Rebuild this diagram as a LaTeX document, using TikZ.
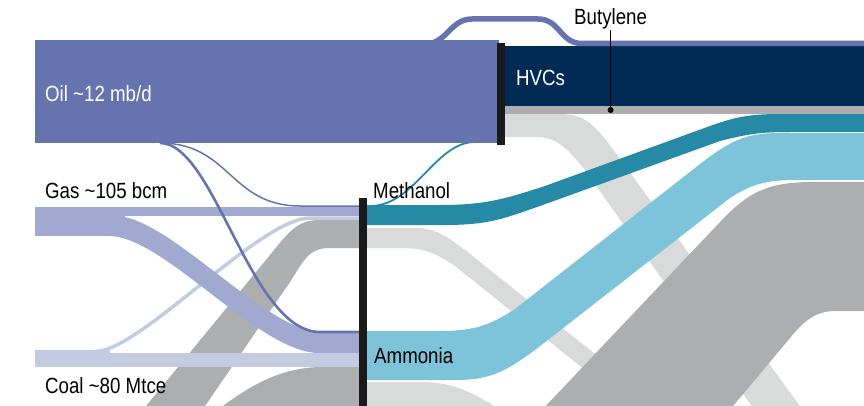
\documentclass[tikz,border=0pt]{standalone}
\usepackage{fontspec}
\setmainfont{Liberation Sans}[FakeStretch=0.85]
\definecolor{oilc}{HTML}{6574AF}
\definecolor{gasc}{HTML}{A0A9CF}
\definecolor{coalc}{HTML}{C3CBE1}
\definecolor{hvcc}{HTML}{012A54}
\definecolor{methc}{HTML}{2689A6}
\definecolor{ammc}{HTML}{7DC3D9}
\definecolor{feedc}{HTML}{ADAEB0}
\definecolor{usec}{HTML}{D9DADA}
\definecolor{barc}{HTML}{1A1A1A}
\tikzstyle{txt} = [inner sep=0pt, anchor=base west, font=\fontsize{22}{26}\selectfont]
\tikzstyle{txt_white} = [txt, text=white]
\tikzstyle{bar} = [fill=barc]
\tikzstyle{thin_flow} = [line cap=butt]

\begin{document}
\begin{tikzpicture}[x=1pt, y=-1pt]
		\useasboundingbox (0,0) rectangle (864,406);
		\clip (0,0) rectangle (864,406);
		
		% outflows on the right
		\fill[usec] (505,114) -- (560,114) .. controls (585,114) and (595,125) .. (615,152) -- (810,420) -- (765,425) -- (585,170) .. controls (565,145) and (555,137) .. (535,137) -- (505,137) -- cycle;
		\fill[usec] (367,228) -- (415,228) .. controls (435,228) and (445,235) .. (465,250) -- (665,410) -- (640,414) -- (455,266) .. controls (435,253) and (425,248) .. (400,248) -- (367,248) -- cycle;
		\fill[usec] (367,382) -- (420,382) .. controls (450,382) and (470,390) .. (500,410) -- (367,410) -- cycle;
		\fill[feedc] (540,412) -- (720,222) .. controls (750,190) and (770,182) .. (815,182) -- (870,182) -- (870,311) -- (835,311) .. controls (815,311) and (803,322) .. (790,338) -- (728,412) -- cycle;
		\fill[methc] (367,205) -- (440,205) .. controls (485,205) and (505,199) .. (545,186) -- (710,126) .. controls (735,117) and (750,114) .. (780,114) -- (870,114) -- (870,132) -- (790,132) .. controls (760,132) and (748,134) .. (720,141) -- (540,206) .. controls (505,218) and (490,225) .. (445,225) -- (367,225) -- cycle;
		\fill[ammc] (367,331) -- (440,331) .. controls (475,331) and (490,325) .. (515,309) -- (700,164) .. controls (730,141) and (745,133) .. (780,133) -- (870,133) -- (870,180) -- (800,180) .. controls (770,180) and (755,182) .. (730,198) -- (535,350) .. controls (505,372) and (490,380) .. (455,380) -- (367,380) -- cycle;
		\draw[thin_flow, methc, line width=1.8pt] (370,206) .. controls (415,206) and (435,142) .. (475,142) -- (497,142);
		\fill[hvcc] (503,46) rectangle (870,106);
		\fill[feedc] (503,106) rectangle (870,114);
		
		% inflows on the left
		\fill[oilc] (35,40) rectangle (499,143);
		\draw[thin_flow, oilc, line width=5.5pt] (425,44) .. controls (447,44) and (450,19) .. (472,19) -- (538,19) .. controls (560,19) and (560,43.5) .. (582,43.5) -- (870,43.5);
		\draw[thin_flow, coalc, line width=3.5pt] (95,351.5) .. controls (140,351.5) and (260,218) .. (310,218) -- (359,218);
		\fill[feedc] (359,220) -- (320,220) .. controls (298,220) and (290,230) .. (270,255) -- (128,428) -- (190,428) -- (290,282) .. controls (305,258) and (310,248) .. (330,248) -- (359,248) -- cycle;
		\fill[feedc] (359,367) -- (320,367) .. controls (280,368) and (250,385) .. (215,412) -- (359,412) -- cycle;
		\fill[gasc] (35,207) rectangle (359,216);
		\fill[gasc] (35,207) rectangle (125,236);
		\fill[gasc] (115,216) .. controls (170,216) and (265,333) .. (325,333) -- (359,333) -- (359,353) -- (319,353) .. controls (259,353) and (164,236) .. (109,236) -- cycle;
		\fill[coalc] (35,350) rectangle (110,367);
		\fill[coalc] (35,353) rectangle (359,367);
		\draw[thin_flow, oilc, line width=1.5pt] (160,143) .. controls (230,143) and (230,206) .. (300,206) -- (359,206);
		\draw[thin_flow, oilc, line width=2.6pt] (160,143) .. controls (215,143) and (250,332) .. (320,332) -- (359,332);
		
		% nodes
		\fill[bar] (497,43) rectangle (505,145);
		\fill[bar] (359,198) rectangle (367,412);
		
		\node (oil) [txt_white] at (45,102) {Oil \textasciitilde12 mb/d};
		\node (gas) [txt] at (45,199) {Gas \textasciitilde105 bcm};
		\node (coal) [txt] at (45,393) {Coal \textasciitilde80 Mtce};
		\node (methanol) [txt] at (373,198) {Methanol};
		\node (ammonia) [txt] at (374,363) {Ammonia};
		\node (hvcs) [txt_white] at (516,86) {HVCs};
		\node (butylene) [txt] at (574,25) {Butylene};
		\coordinate (butdot) at (butylene.south |- 0,110);
		\draw[line width=1pt] (butylene.south) -- (butdot);
		\fill (butdot) circle (3pt);
\end{tikzpicture}
\end{document}
